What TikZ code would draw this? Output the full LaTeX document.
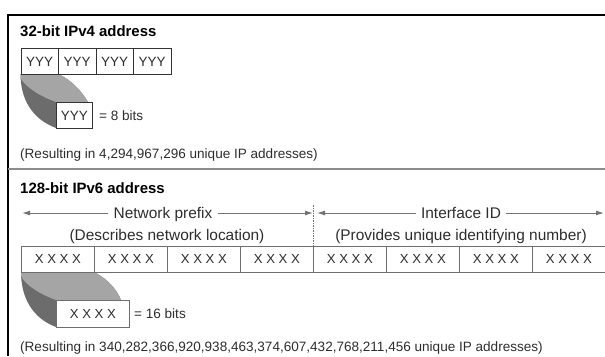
\documentclass[tikz,border=0pt]{standalone}
\usepackage{fontspec}
\setmainfont{Liberation Sans}
\usetikzlibrary{arrows.meta}
\definecolor{ribdark}{RGB}{108,108,108}
\definecolor{riblight}{RGB}{165,165,165}
\definecolor{arrowgray}{RGB}{115,115,115}
\definecolor{boxgray}{RGB}{110,110,110}
\definecolor{txtgray}{RGB}{45,45,45}
\begin{document}
\begin{tikzpicture}[x=1bp,y=-1bp,
  titletext/.style={font=\fontsize{15}{18}\selectfont\bfseries, text=black, inner sep=0, anchor=base west},
  smalltext/.style={font=\fontsize{13.6}{16}\selectfont, text=txtgray, inner sep=0, anchor=base west},
  lbltext/.style={font=\fontsize{15.5}{18}\selectfont, text=txtgray, inner xsep=5bp, inner ysep=0, anchor=base},
  fourbox/.style={draw=black!80, line width=0.8bp, fill=white, minimum width=37.5bp, minimum height=26bp, inner sep=0, anchor=north west, font=\fontsize{13.5}{15}\selectfont, text=txtgray},
  sixbox/.style={draw=boxgray, line width=0.8bp, fill=white, minimum width=73bp, minimum height=26bp, inner sep=0, anchor=north west, font=\fontsize{13.2}{15}\selectfont, text=txtgray},
  rangearrow/.style={draw=arrowgray, line width=1bp, -{Latex[length=8bp,width=5bp]}},
  frameline/.style={draw=black, line width=1.6bp},
  sepline/.style={draw=black!45, line width=1.8bp},
  divider/.style={draw=arrowgray, line width=0.9bp, dash pattern=on 1.5bp off 1bp}
]
\useasboundingbox (0,0) rectangle (605,356);

% frame
\coordinate (fTL) at (8,15);
\coordinate (fTR) at (605,15);
\coordinate (fBL) at (8,356);
\coordinate (sL) at (8,169);
\coordinate (sR) at (605,169);
\draw[frameline] (fTR) -- (fTL) -- (fBL);
\draw[sepline] (sL) -- (sR);

% ---------------- IPv4 ----------------
\node[titletext] (t4) at (20,36) {32-bit IPv4 address};

% ribbon IPv4
\fill[ribdark] (20.5,74) -- (58,74) .. controls (72,80) and (82,92) .. (88,102)
   -- (56,102) -- (56,128) .. controls (32,119) and (20.5,99) .. (20.5,74) -- cycle;
\fill[riblight] (20.5,74) -- (58,74) .. controls (72,80) and (82,92) .. (88,102)
   -- (56,102) .. controls (42,97) and (26,88) .. (20.5,78) -- cycle;

\node[fourbox] (a1) at (20.5,48) {YYY};
\node[fourbox] (a2) at (58,48) {YYY};
\node[fourbox] (a3) at (95.5,48) {YYY};
\node[fourbox] (a4) at (133,48) {YYY};

\node[fourbox, minimum width=36bp] (a0) at (56,102) {YYY};
\node[smalltext] (a0t) at (99,120.5) {= 8 bits};

\node[smalltext] (r4) at (20,158) {(Resulting in 4,294,967,296 unique IP addresses)};

% ---------------- IPv6 ----------------
\node[titletext] (t6) at (20,193) {128-bit IPv6 address};

\coordinate (npL) at (22,213);
\coordinate (npR) at (313,213);
\coordinate (ifL) at (317,213);
\coordinate (ifR) at (604,213);
\node[lbltext] (np) at (163,218) {Network prefix};
\node[lbltext] (ifid) at (461,218) {Interface ID};
\draw[rangearrow] (np.west |- npL) -- (npL);
\draw[rangearrow] (np.east |- npR) -- (npR);
\draw[rangearrow] (ifid.west |- ifL) -- (ifL);
\draw[rangearrow] (ifid.east |- ifR) -- (ifR);

\node[lbltext] (npd) at (167,240) {(Describes network location)};
\node[lbltext] (ifd) at (461,240) {(Provides unique identifying number)};

% ribbon IPv6
\fill[ribdark] (21,272) -- (94,272) .. controls (108,279) and (117,290) .. (121,300)
   -- (56,300) -- (56,327) .. controls (32,318) and (21,297) .. (21,272) -- cycle;
\fill[riblight] (21,272) -- (94,272) .. controls (108,279) and (117,290) .. (121,300)
   -- (56,300) .. controls (42,295) and (26,286) .. (21,276) -- cycle;

\node[sixbox] (b1) at (21,246) {X X X X};
\node[sixbox] (b2) at (94,246) {X X X X};
\node[sixbox] (b3) at (167,246) {X X X X};
\node[sixbox] (b4) at (240,246) {X X X X};
\node[sixbox] (b5) at (313,246) {X X X X};
\node[sixbox] (b6) at (386,246) {X X X X};
\node[sixbox] (b7) at (459,246) {X X X X};
\node[sixbox] (b8) at (532,246) {X X X X};

\coordinate (dvT) at (313,205);
\draw[divider] (dvT) -- (b5.north west);

\node[sixbox, minimum height=27bp] (b0) at (56,300) {X X X X};
\node[smalltext] (b0t) at (134,318) {= 16 bits};

\node[smalltext] (r6) at (20,351) {(Resulting in 340,282,366,920,938,463,374,607,432,768,211,456 unique IP addresses)};
\end{tikzpicture}
\end{document}
